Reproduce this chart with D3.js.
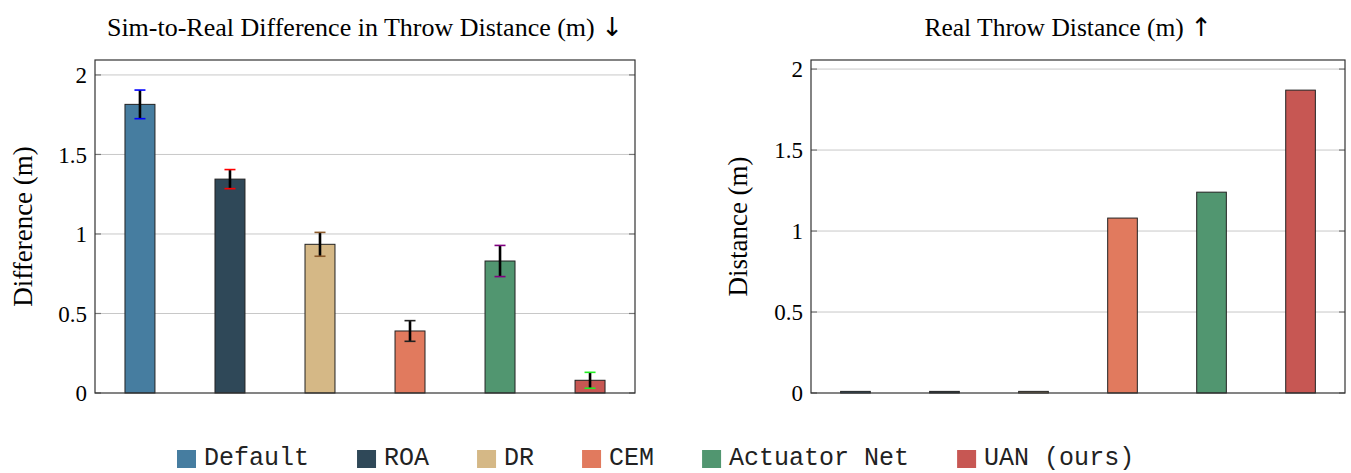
<!DOCTYPE html>
<html>
<head>
<meta charset="utf-8">
<script src="https://cdn.jsdelivr.net/npm/d3@7"></script>
<style>
  body { margin: 0; background: #fff; }
  svg { display: block; }
</style>
</head>
<body>
<svg id="chart" width="1351" height="473"></svg>
<script>
// data
var methods = ['Default', 'ROA', 'DR', 'CEM', 'Actuator Net', 'UAN (ours)'];
var colors = ['#467da0', '#2f4858', '#d5b886', '#e17a5e', '#519670', '#c75753'];
var capColors = ['#0000ff', '#ff0000', '#8b5a2b', '#222222', '#800080', '#22ee22'];
var simDiff = [1.815, 1.345, 0.935, 0.39, 0.83, 0.08];
var simErr = [0.09, 0.06, 0.075, 0.065, 0.098, 0.05];
var realDist = [0.01, 0.01, 0.01, 1.08, 1.24, 1.87];
var yTicks = [0, 0.5, 1, 1.5, 2];

var svg = d3.select('#chart');
var serif = '"Liberation Serif", "DejaVu Serif", serif';

function drawPanel(opts) {
    var x = d3.scaleBand()
        .domain(methods)
        .range([opts.left, opts.right])
        .paddingInner(0.667)
        .paddingOuter(0.333);
    var y = d3.scaleLinear()
        .domain([0, opts.yMax])
        .range([opts.bottom, opts.top]);

    var g = svg.append('g');

    // grid
    g.selectAll('.grid').data(yTicks.filter(function(d) { return d > 0; }))
        .enter().append('line')
        .attr('x1', opts.left).attr('x2', opts.right)
        .attr('y1', function(d) { return y(d); })
        .attr('y2', function(d) { return y(d); })
        .attr('stroke', '#c8c8c8')
        .attr('stroke-width', 1);

    // inner tick marks on both sides
    yTicks.forEach(function(t) {
        g.append('line')
            .attr('x1', opts.left).attr('x2', opts.left + 6)
            .attr('y1', y(t)).attr('y2', y(t))
            .attr('stroke', '#777').attr('stroke-width', 1.2);
        g.append('line')
            .attr('x1', opts.right - 6).attr('x2', opts.right)
            .attr('y1', y(t)).attr('y2', y(t))
            .attr('stroke', '#777').attr('stroke-width', 1.2);
    });

    // bars
    g.selectAll('.bar').data(opts.values)
        .enter().append('rect')
        .attr('x', function(d, i) { return x(methods[i]); })
        .attr('y', function(d) { return y(d); })
        .attr('width', x.bandwidth())
        .attr('height', function(d) { return y(0) - y(d); })
        .attr('fill', function(d, i) { return colors[i]; })
        .attr('stroke', '#222')
        .attr('stroke-width', 1);

    // error bars
    if (opts.errors) {
        opts.values.forEach(function(v, i) {
            var cx = x(methods[i]) + x.bandwidth() / 2;
            var e = opts.errors[i];
            g.append('line')
                .attr('x1', cx).attr('x2', cx)
                .attr('y1', y(v + e)).attr('y2', y(v - e))
                .attr('stroke', '#000').attr('stroke-width', 2.6);
            [v + e, v - e].forEach(function(c) {
                g.append('line')
                    .attr('x1', cx - 5.5).attr('x2', cx + 5.5)
                    .attr('y1', y(c)).attr('y2', y(c))
                    .attr('stroke', capColors[i]).attr('stroke-width', 1.6);
            });
        });
    }

    // frame
    g.append('rect')
        .attr('x', opts.left).attr('y', opts.top)
        .attr('width', opts.right - opts.left)
        .attr('height', opts.bottom - opts.top)
        .attr('fill', 'none')
        .attr('stroke', '#333')
        .attr('stroke-width', 1.2);

    // tick labels
    g.selectAll('.tl').data(yTicks)
        .enter().append('text')
        .attr('x', opts.left - 8)
        .attr('y', function(d) { return y(d); })
        .attr('dy', '0.35em')
        .attr('text-anchor', 'end')
        .attr('font-family', serif)
        .attr('font-size', 23)
        .text(function(d) { return d3.format('')(d); });

    // y label
    g.append('text')
        .attr('transform', 'translate(' + opts.labelX + ',' + ((opts.top + opts.bottom) / 2) + ') rotate(-90)')
        .attr('text-anchor', 'middle')
        .attr('dy', '0.35em')
        .attr('font-family', serif)
        .attr('font-size', 27)
        .text(opts.yLabel);

    // title, arrow in a font that has a plain glyph for it
    var title = g.append('text')
        .attr('x', opts.titleX)
        .attr('y', 36)
        .attr('text-anchor', 'middle')
        .attr('font-family', serif)
        .attr('font-size', opts.titleSize)
        .attr('fill', '#000');
    title.append('tspan').text(opts.title + ' ');
    title.append('tspan')
        .attr('font-family', '"DejaVu Sans"')
        .attr('fill', '#000')
        .text(opts.arrow);
}

drawPanel({
    left: 95, right: 635, top: 60, bottom: 393,
    yMax: 2.094, values: simDiff, errors: simErr,
    labelX: 23, yLabel: 'Difference (m)',
    titleX: 365, titleSize: 26,
    title: 'Sim-to-Real Difference in Throw Distance (m)', arrow: '\u2193'
});

drawPanel({
    left: 811, right: 1345, top: 60, bottom: 393,
    yMax: 2.056, values: realDist, errors: null,
    labelX: 738, yLabel: 'Distance (m)',
    titleX: 1068, titleSize: 25.5,
    title: 'Real Throw Distance (m)', arrow: '\u2191'
});

// legend
var legend = svg.append('g');
var lx = 177;
methods.forEach(function(m, i) {
    legend.append('rect')
        .attr('x', lx).attr('y', 450)
        .attr('width', 19).attr('height', 18)
        .attr('fill', colors[i]);
    var t = legend.append('text')
        .attr('x', lx + 27).attr('y', 465)
        .attr('font-family', '"Liberation Mono", "DejaVu Sans Mono", monospace')
        .attr('font-size', 25)
        .attr('fill', '#222')
        .text(m);
    lx += 27 + t.node().getComputedTextLength() + 48;
});
</script>
</body>
</html>
